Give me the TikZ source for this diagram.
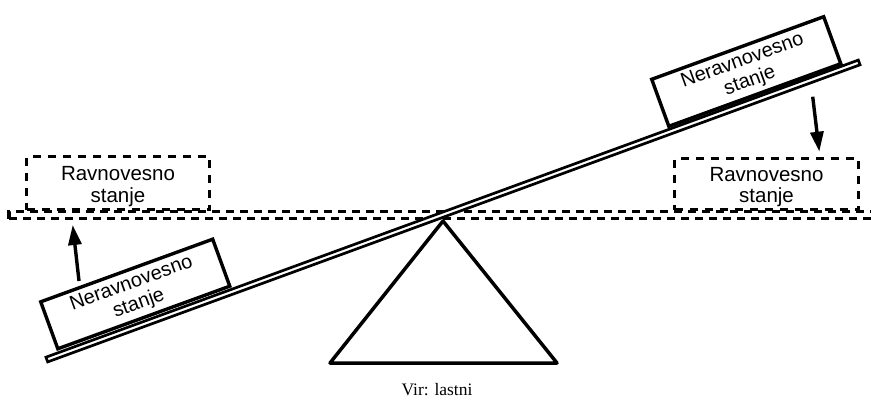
\documentclass[tikz,border=0pt]{standalone}
\usepackage{fontspec}
\setmainfont{Liberation Sans}
\newfontfamily\capfont{Liberation Serif}
\usetikzlibrary{arrows.meta}
\begin{document}
\begin{tikzpicture}[x=1pt,y=-1pt,
  band/.style={line width=3.3pt, dash pattern=on 8pt off 6pt},
  dbox/.style={draw, line width=3.3pt, dash pattern=on 8pt off 7pt, inner sep=0pt},
  lbl/.style={align=center, font=\fontsize{20.5}{21.6}\selectfont, inner sep=0pt},
  block/.style={draw, fill=white, line width=3.4pt, minimum width=183pt, minimum height=50pt, inner sep=0pt, align=center, font=\fontsize{20}{21.6}\selectfont, rotate=20},
  plankst/.style={draw, fill=white, line width=2.7pt, minimum width=865pt, minimum height=5pt, inner sep=0pt, rotate=20.09},
  base/.style={line width=3.5pt, line join=round},
  arr/.style={line width=3.4pt, -{Triangle[length=20pt,width=13pt]}},
  ]
\useasboundingbox (0,0) rectangle (871,412);
% dashed equilibrium band
\draw[band] (9,218.7) -- (9,211.7) -- (880,211.7);
\draw[band] (9,218.7) -- (880,218.7);
% dashed boxes
\node[dbox, minimum width=183pt, minimum height=53pt] (lbox) at (118,183) {};
\node[lbl] (ltext) at (118,186.8) {Ravnovesno\\stanje};
\node[dbox, minimum width=184pt, minimum height=51pt] (rbox) at (766.5,184) {};
\node[lbl] (rtext) at (766.5,187) {Ravnovesno\\stanje};
% fulcrum
\coordinate (apex) at (443,221);
\coordinate (bl) at (330,363);
\coordinate (br) at (557,363);
\draw[base] (apex) -- (bl) -- (br) -- cycle;
% plank
\node[plankst] (plank) at (453,211) {};
% blocks
\node[block] (lblock) at (135.25,294) {Neravnovesno\\stanje};
\node[block] (rblock) at (746.25,71.5) {Neravnovesno\\stanje};
% arrows
\coordinate (la1) at (79,281);
\coordinate (la2) at (72.7,225);
\coordinate (ra1) at (812.7,96.7);
\coordinate (ra2) at (819.3,151.7);
\draw[arr] (la1) -- (la2);
\draw[arr] (ra1) -- (ra2);
% caption
\node[font=\capfont\fontsize{17.5}{19}\selectfont] (cap) at (437,390) {Vir: lastni};
\end{tikzpicture}
\end{document}
